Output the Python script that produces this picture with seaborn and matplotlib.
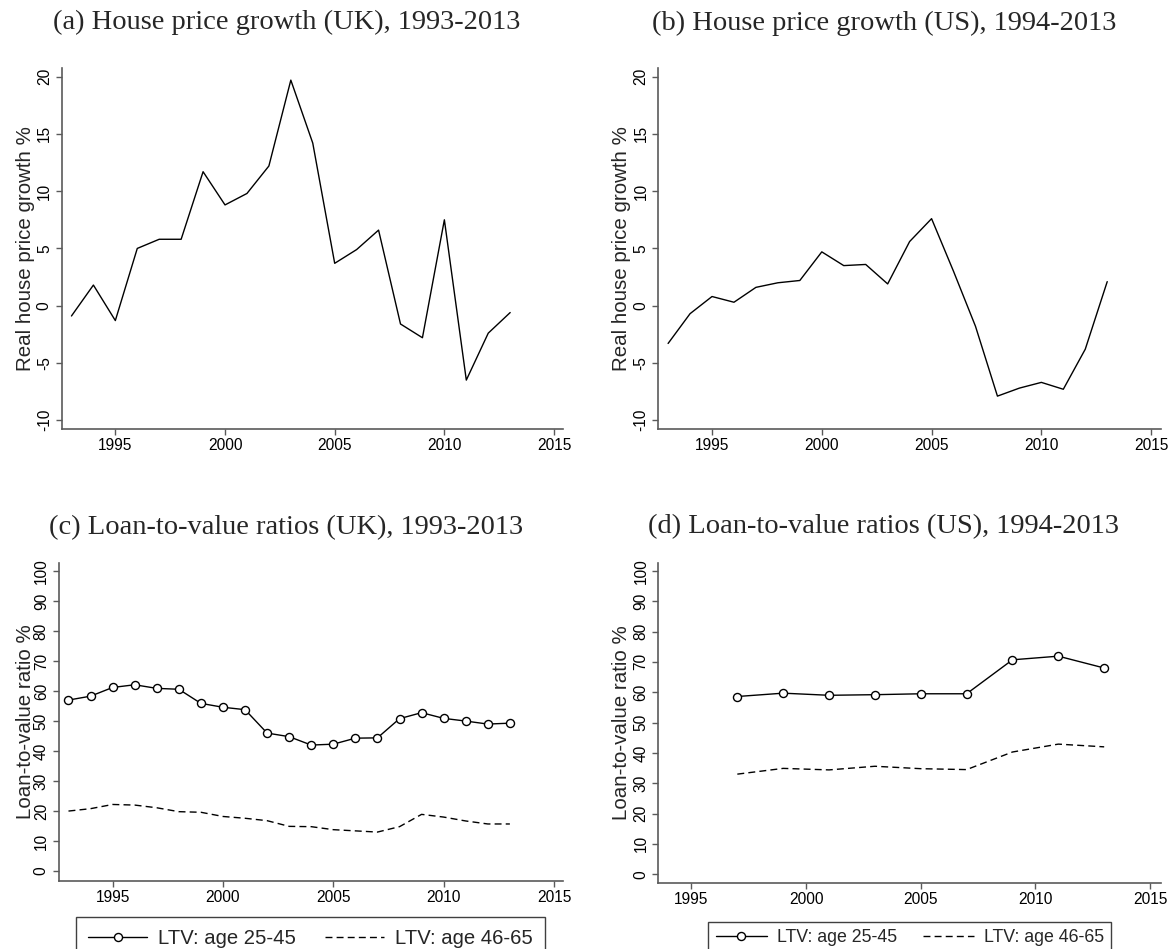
import pandas as pd
import numpy as np
import matplotlib
matplotlib.use("Agg")
import matplotlib.pyplot as plt
import seaborn as sns

# Real house price growth, %
years_hp = list(range(1993, 2014))
uk_growth = [-0.9, 1.8, -1.3, 5.0, 5.8, 5.8, 11.7, 8.8, 9.8, 12.2, 19.7,
             14.2, 3.7, 4.9, 6.6, -1.6, -2.8, 7.5, -6.5, -2.4, -0.6]
us_growth = [-3.3, -0.7, 0.8, 0.3, 1.6, 2.0, 2.2, 4.7, 3.5, 3.6, 1.9,
             5.6, 7.6, 3.0, -1.8, -7.9, -7.2, -6.7, -7.3, -3.8, 2.1]

# Loan-to-value ratios, %
years_uk = list(range(1993, 2014))
uk_ltv_young = [57.0, 58.3, 61.2, 62.1, 60.9, 60.6, 55.9, 54.6, 53.8, 46.0, 44.8,
                42.0, 42.3, 44.3, 44.4, 50.8, 52.8, 50.9, 50.0, 49.0, 49.3]
uk_ltv_old = [20.0, 20.8, 22.2, 22.0, 21.1, 19.8, 19.6, 18.2, 17.6, 16.8, 14.9,
              14.8, 13.8, 13.4, 13.0, 14.8, 18.9, 18.0, 16.7, 15.7, 15.7]
years_us = [1997, 1999, 2001, 2003, 2005, 2007, 2009, 2011, 2013]
us_ltv_young = [58.6, 59.7, 59.0, 59.2, 59.5, 59.5, 70.7, 71.9, 68.0]
us_ltv_old = [33.0, 34.9, 34.4, 35.6, 34.8, 34.5, 40.3, 42.9, 42.0]

label_young = "LTV: age 25-45"
label_old = "LTV: age 46-65"

sns.set_style("ticks")
plt.rcParams["font.family"] = ["Liberation Sans", "DejaVu Sans"]
plt.rcParams["axes.unicode_minus"] = False
gray = "#5a5a5a"

fig = plt.figure(figsize=(11.71, 9.49), dpi=100)

ax_a = fig.add_axes([0.0526, 0.5476, 0.4286, 0.3804])
ax_b = fig.add_axes([0.5621, 0.5476, 0.4290, 0.3804])
ax_c = fig.add_axes([0.0500, 0.0720, 0.4312, 0.3351])
ax_d = fig.add_axes([0.5621, 0.0692, 0.4290, 0.3378])

sns.lineplot(x=years_hp, y=uk_growth, ax=ax_a, color="black", linewidth=1)
sns.lineplot(x=years_hp, y=us_growth, ax=ax_b, color="black", linewidth=1)

marker_kws = dict(marker="o", markersize=5.8, markerfacecolor="white",
                  markeredgecolor="black", markeredgewidth=1)
sns.lineplot(x=years_uk, y=uk_ltv_young, ax=ax_c, color="black", linewidth=1,
             label=label_young, **marker_kws)
sns.lineplot(x=years_uk, y=uk_ltv_old, ax=ax_c, color="black", linewidth=1,
             linestyle=(0, (5, 3)), label=label_old)
sns.lineplot(x=years_us, y=us_ltv_young, ax=ax_d, color="black", linewidth=1,
             label=label_young, **marker_kws)
sns.lineplot(x=years_us, y=us_ltv_old, ax=ax_d, color="black", linewidth=1,
             linestyle=(0, (5, 3)), label=label_old)

# axis formatting
for ax in [ax_a, ax_b, ax_c, ax_d]:
    sns.despine(ax=ax)
    for s in ["left", "bottom"]:
        ax.spines[s].set_color(gray)
        ax.spines[s].set_linewidth(1.2)
    ax.tick_params(axis="both", colors=gray, length=4, width=1, labelsize=11.2,
                   labelcolor="black")
    ax.tick_params(axis="y", labelrotation=90, pad=3)
    ax.tick_params(axis="x", pad=2.5)
    ax.set_xticks([1995, 2000, 2005, 2010, 2015])
    ax.set_xlabel("")

for ax in [ax_a, ax_b]:
    ax.set_xlim(1992.55, 2015.43)
    ax.set_ylim(-10.8, 20.73)
    ax.set_yticks([-10, -5, 0, 5, 10, 15, 20])
    ax.set_ylabel("Real house price growth %", fontsize=14.8, va="center")

ax_c.set_xlim(1992.55, 2015.43)
ax_c.set_ylim(-3.2, 102.8)
ax_d.set_xlim(1993.55, 2015.46)
ax_d.set_ylim(-3.0, 102.7)
for ax in [ax_c, ax_d]:
    ax.set_yticks(range(0, 101, 10))
    ax.set_ylabel("Loan-to-value ratio %", fontsize=14.8, va="center")

for ax in [ax_a, ax_b, ax_c, ax_d]:
    plt.setp(ax.get_yticklabels(), va="center")

ax_a.yaxis.set_label_coords(-0.0725, 0.5)
ax_b.yaxis.set_label_coords(-0.0734, 0.5)
ax_c.yaxis.set_label_coords(-0.0656, 0.5)
ax_d.yaxis.set_label_coords(-0.0738, 0.5)

# legends below the bottom panels
for ax, xc, ytop, fs, bp in [(ax_c, 0.2653, 0.0334, 14.6, 0.6), (ax_d, 0.7770, 0.0288, 12.8, 0.4)]:
    handles, labels = ax.get_legend_handles_labels()
    ax.get_legend().remove()
    leg = fig.legend(handles, labels, loc="upper center", bbox_to_anchor=(xc, ytop),
                     ncol=2, frameon=True, fancybox=False, framealpha=1,
                     edgecolor="#404040", borderaxespad=0, fontsize=fs,
                     handlelength=2.9, handletextpad=0.55, columnspacing=1.45,
                     borderpad=bp)
    leg.get_frame().set_linewidth(1.0)

# panel titles
title_kws = dict(ha="center", va="center", fontsize=20.5,
                 family=["Liberation Serif", "DejaVu Serif"])
fig.text(0.2447, 0.9761, "(a) House price growth (UK), 1993-2013", **title_kws)
fig.text(0.7549, 0.9750, "(b) House price growth (US), 1994-2013", **title_kws)
fig.text(0.2447, 0.4442, "(c) Loan-to-value ratios (UK), 1993-2013", **title_kws)
fig.text(0.7547, 0.4447, "(d) Loan-to-value ratios (US), 1994-2013", **title_kws)

fig.savefig("out.png", dpi=100)
